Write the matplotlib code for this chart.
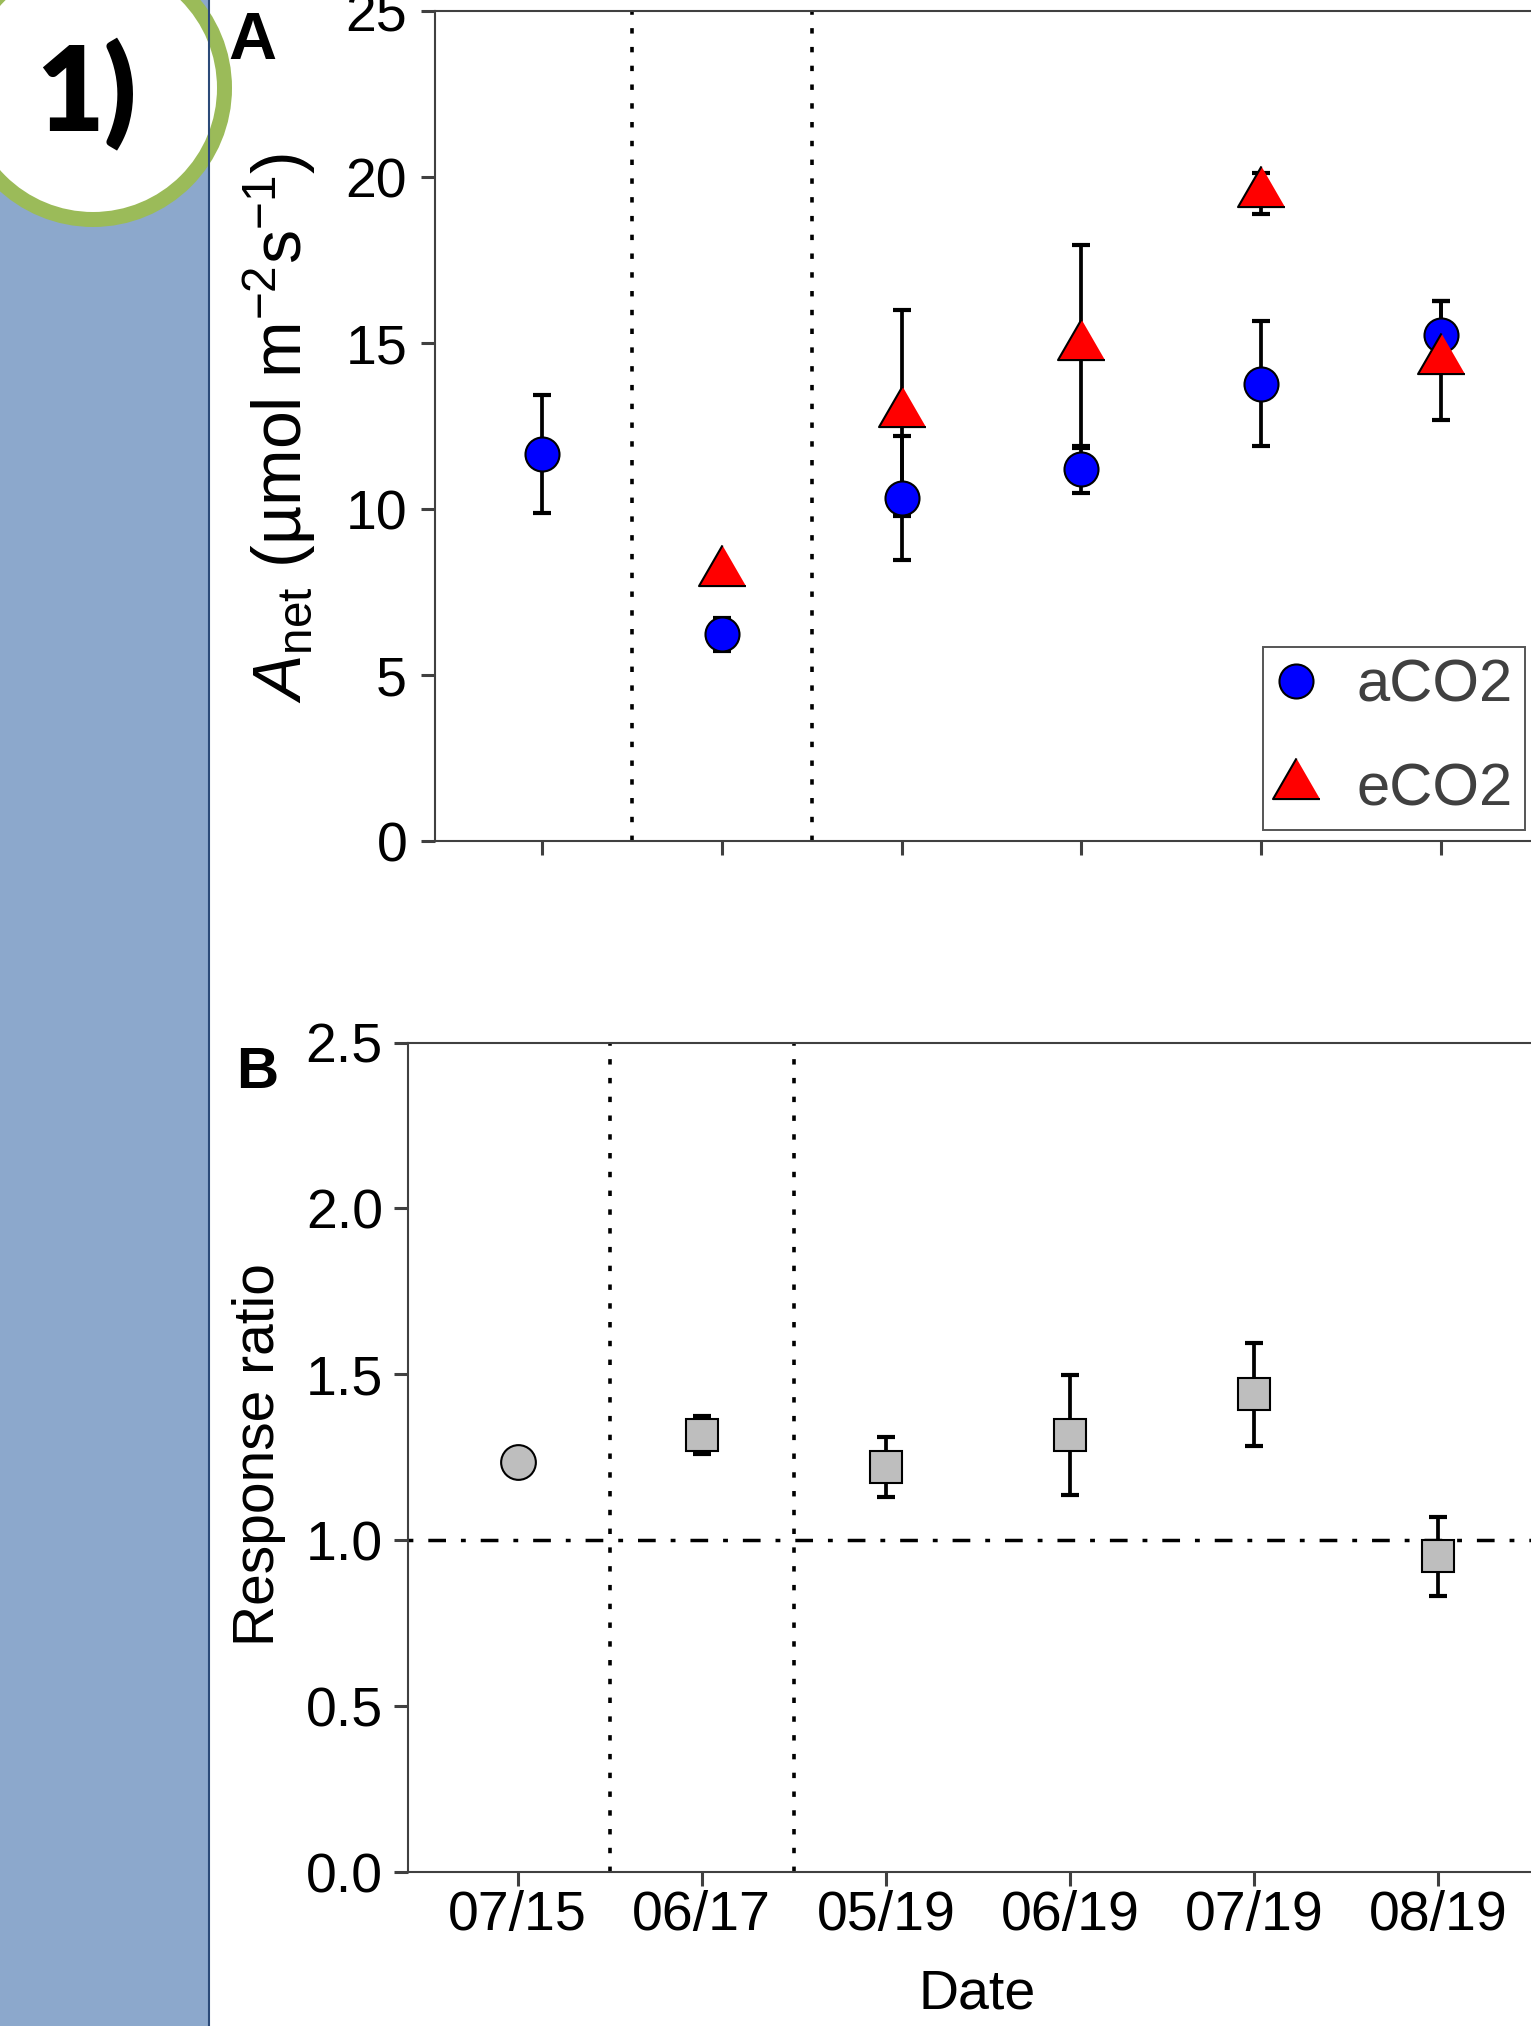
import matplotlib
matplotlib.use("Agg")
import matplotlib.pyplot as plt
import numpy as np
from matplotlib.patches import Rectangle, Circle
from matplotlib.lines import Line2D

plt.rcParams['font.family'] = 'Liberation Sans'
plt.rcParams['mathtext.fontset'] = 'custom'
plt.rcParams['mathtext.rm'] = 'Liberation Sans'
plt.rcParams['mathtext.it'] = 'Liberation Sans:italic'
plt.rcParams['mathtext.bf'] = 'Liberation Sans:bold'

# data
dates = ['07/15', '06/17', '05/19', '06/19', '07/19', '08/19']
a_mean = [11.65, 6.23, 10.33, 11.19, 13.78, 15.23]
a_err = [1.78, 0.5, 1.88, 0.72, 1.88, 1.03]
e_mean = [np.nan, 8.1, 12.9, 14.9, 19.51, 14.48]
e_err = [np.nan, np.nan, 3.1, 3.05, 0.62, 1.8]
ratio_mean = [1.235, 1.317, 1.221, 1.317, 1.44, 0.951]
ratio_err = [0.0, 0.056, 0.09, 0.18, 0.155, 0.118]
a_ticks = [0, 5, 10, 15, 20, 25]
b_ticks = [0.0, 0.5, 1.0, 1.5, 2.0, 2.5]

W, H = 1531, 2026
fig = plt.figure(figsize=(W / 100, H / 100), dpi=100)

def box(l, t, r, b):
    return [l / W, 1 - b / H, (r - l) / W, (b - t) / H]

def fxy(x, y):
    return x / W, 1 - y / H

# slide decoration: blue side band and the "1)" badge
bg = fig.add_axes([0, 0, 1, 1], zorder=0)
bg.set_xlim(0, W)
bg.set_ylim(H, 0)
bg.axis('off')
bg.add_patch(Rectangle((0, 0), 208, H, facecolor='#8CA8CC', edgecolor='none'))
bg.plot([208.5, 208.5], [0, H], color='#2B4A78', lw=1.5)
bg.add_patch(Circle((93, 88), 131.5, facecolor='white', edgecolor='#9BBB59', lw=10.8))
bg.text(36, 131, '1)', fontfamily='Lato', fontweight='heavy', fontsize=84,
        ha='left', va='baseline', color='black')

x = np.arange(len(dates))
spine_col = '#404040'

def style(ax, ticks):
    for s in ax.spines.values():
        s.set_color(spine_col)
        s.set_linewidth(1.5)
    ax.set_xlim(-0.595, 5.6)
    ax.set_xticks(x)
    ax.set_yticks(ticks)
    ax.tick_params(direction='out', length=10, width=2.2, color=spine_col)
    for v in [0.5, 1.5]:
        ax.axvline(v, color='black', lw=2.6, ls=(0, (1.5, 3.7)), zorder=1)

tri = [(0, 0.577), (-0.5, -0.289), (0.5, -0.289)]

# panel A
axA = fig.add_axes(box(435, 11, 1549, 841), zorder=1)
style(axA, a_ticks)
axA.set_ylim(0, 25)
axA.tick_params(axis='y', labelsize=40, pad=10)
axA.tick_params(axis='x', labelbottom=False)
eb = dict(fmt='none', ecolor='black', elinewidth=2.7, capsize=6.5, capthick=3, zorder=2)
axA.errorbar(x, a_mean, yerr=a_err, **eb)
axA.errorbar(x, e_mean, yerr=e_err, **eb)
axA.plot(x, a_mean, ls='none', marker='o', ms=24.5, mfc='#0000FF', mec='black', mew=1.5, zorder=3)
axA.plot(x, e_mean, ls='none', marker=tri, ms=39, mfc='#FF0000', mec='black', mew=1.5, zorder=4)

handles = [Line2D([], [], ls='none', marker='o', ms=24.5, mfc='#0000FF', mec='black', mew=1.5),
           Line2D([], [], ls='none', marker=tri, ms=39, mfc='#FF0000', mec='black', mew=1.5)]
leg = axA.legend(handles, ['aCO2', 'eCO2'], loc='upper left',
                 bbox_to_anchor=fxy(1263, 647), bbox_transform=fig.transFigure,
                 borderaxespad=0, fontsize=43, fancybox=False, framealpha=1,
                 edgecolor='#555555', labelcolor='#404040', borderpad=0.2,
                 handlelength=0.72, handletextpad=0.65, labelspacing=0.82)
leg.get_frame().set_linewidth(1.4)

fig.text(*fxy(280, 428), r'$A_{\mathrm{net}}$ (µmol m$^{-2}$s$^{-1}$)', fontsize=49,
         rotation=90, ha='center', va='center')
fig.text(*fxy(228, 59), 'A', fontsize=48, fontweight='bold', ha='left', va='baseline')

# panel B
axB = fig.add_axes(box(408, 1042.5, 1549, 1872), zorder=1)
style(axB, b_ticks)
axB.set_ylim(0, 2.5)
axB.set_yticklabels([f'{t:.1f}' for t in b_ticks])
axB.set_xticklabels(dates)
axB.tick_params(axis='y', labelsize=40, pad=8)
axB.tick_params(axis='x', labelsize=40, pad=3)
axB.axhline(1.0, color='black', lw=2.5, ls=(0, (1.4, 4.3, 5.1, 4.3)), zorder=1)
axB.errorbar(x[1:], ratio_mean[1:], yerr=ratio_err[1:], **eb)
axB.plot(x[:1], ratio_mean[:1], ls='none', marker='o', ms=25, mfc='#BEBEBE', mec='black', mew=1.5, zorder=3)
axB.plot(x[1:], ratio_mean[1:], ls='none', marker='s', ms=22.7, mfc='#BEBEBE', mec='black', mew=1.5, zorder=3)

fig.text(*fxy(259, 1455), 'Response ratio', fontsize=41, rotation=90, ha='center', va='center')
fig.text(*fxy(977, 2008), 'Date', fontsize=40, ha='center', va='baseline')
fig.text(*fxy(236, 1088), 'B', fontsize=42, fontweight='bold', ha='left', va='baseline')

fig.savefig('out.png', dpi=100)
